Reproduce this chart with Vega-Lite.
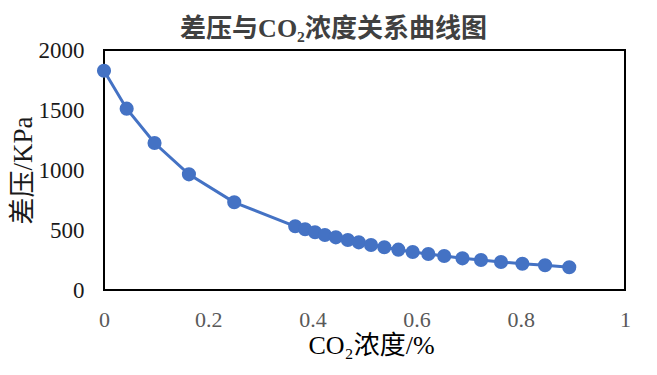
{
  "$schema": "https://vega.github.io/schema/vega-lite/v6.json",
  "width": 521,
  "height": 240,
  "autosize": {"type": "none"},
  "padding": {"left": 104, "top": 50, "right": 32, "bottom": 85},
  "background": "white",
  "title": {
    "text": "差压与CO₂浓度关系曲线图",
    "font": "Liberation Serif, Noto Sans CJK SC",
    "fontSize": 26,
    "fontWeight": "bold",
    "color": "#404040",
    "anchor": "middle",
    "dx": -31,
    "offset": -3
  },
  "data": {
    "values": [
      {"co2": 0.0, "dp": 1827},
      {"co2": 0.0435, "dp": 1511},
      {"co2": 0.097, "dp": 1225},
      {"co2": 0.163, "dp": 964},
      {"co2": 0.25, "dp": 731},
      {"co2": 0.367, "dp": 531},
      {"co2": 0.386, "dp": 506},
      {"co2": 0.405, "dp": 481},
      {"co2": 0.424, "dp": 458},
      {"co2": 0.445, "dp": 439},
      {"co2": 0.468, "dp": 417},
      {"co2": 0.489, "dp": 397},
      {"co2": 0.5125, "dp": 375},
      {"co2": 0.538, "dp": 356},
      {"co2": 0.565, "dp": 336},
      {"co2": 0.5925, "dp": 317},
      {"co2": 0.6225, "dp": 300},
      {"co2": 0.653, "dp": 283},
      {"co2": 0.688, "dp": 264},
      {"co2": 0.7236, "dp": 250},
      {"co2": 0.762, "dp": 233},
      {"co2": 0.803, "dp": 219},
      {"co2": 0.8465, "dp": 206},
      {"co2": 0.893, "dp": 190}
    ]
  },
  "encoding": {
    "x": {
      "field": "co2",
      "type": "quantitative",
      "scale": {"domain": [0, 1], "nice": false},
      "axis": {
        "title": "CO₂浓度/%",
        "values": [0, 0.2, 0.4, 0.6, 0.8, 1],
        "format": "~g",
        "grid": false,
        "domain": false,
        "ticks": false,
        "labelFont": "Liberation Serif",
        "labelFontSize": 22,
        "labelColor": "#595959",
        "labelPadding": 19,
        "labelFlush": false,
        "titleFont": "Liberation Serif, Noto Sans CJK SC",
        "titleFontSize": 26,
        "titleFontWeight": "normal",
        "titleColor": "#000000",
        "titlePadding": 2,
        "titleX": 267
      }
    },
    "y": {
      "field": "dp",
      "type": "quantitative",
      "scale": {"domain": [0, 2000], "nice": false},
      "axis": {
        "title": "差压/KPa",
        "values": [0, 500, 1000, 1500, 2000],
        "format": "d",
        "grid": false,
        "domain": false,
        "ticks": false,
        "labelFont": "Liberation Serif",
        "labelFontSize": 23,
        "labelColor": "#1a1a1a",
        "labelPadding": 20,
        "labelFlush": false,
        "titleFont": "Liberation Serif, Noto Sans CJK SC",
        "titleFontSize": 27,
        "titleFontWeight": "normal",
        "titleColor": "#1a1a1a",
        "titlePadding": 1
      }
    }
  },
  "layer": [
    {"mark": {"type": "line", "color": "#4472C4", "strokeWidth": 3}},
    {"mark": {"type": "point", "filled": true, "color": "#4472C4", "opacity": 1, "size": 200}}
  ],
  "config": {
    "view": {"stroke": "#000000", "strokeWidth": 2}
  }
}
